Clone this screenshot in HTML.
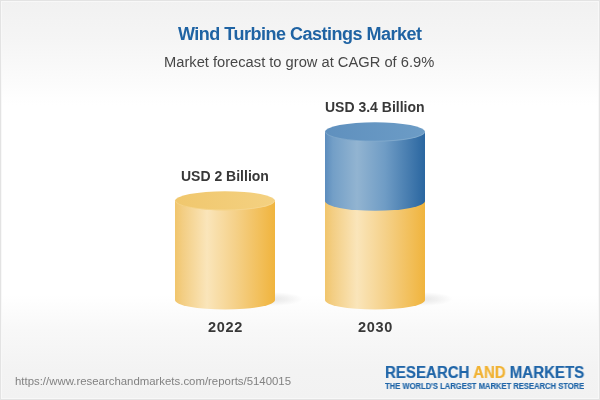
<!DOCTYPE html>
<html><head><meta charset="utf-8">
<style>
html,body{margin:0;padding:0;}
body{width:600px;height:400px;overflow:hidden;position:relative;font-family:"Liberation Sans",sans-serif;
background:linear-gradient(to bottom,#f1f1f1 0px,#f5f5f5 40px,#fbfbfb 80px,#ffffff 105px,#ffffff 295px,#f8f8f8 330px,#f3f3f3 370px,#f2f2f2 400px);}
.frame{position:absolute;left:0;top:0;width:598px;height:398px;border:1px solid #e3e3e3;box-shadow:inset 0 0 0 1px #f8f8f8;}
.t{position:absolute;white-space:nowrap;line-height:1;will-change:transform;}
#title{left:178px;top:25px;font-size:18px;font-weight:bold;color:#1f63a3;letter-spacing:-0.5px;}
#sub{left:164px;top:55px;font-size:14.7px;color:#474747;}
.lbl{font-size:14px;font-weight:bold;color:#383838;}
#l1{left:181px;top:169px;letter-spacing:0px;}
#l2{left:325px;top:100px;letter-spacing:0px;}
.yr{font-size:14.5px;font-weight:bold;color:#383838;letter-spacing:0.7px;top:320px;}
#y1{left:208px;}
#y2{left:358px;}
#url{left:14.5px;top:375.7px;font-size:11.4px;color:#828282;}
#logo1{left:385px;top:364.5px;font-size:16px;transform:scaleX(0.94);transform-origin:0 0;-webkit-text-stroke:0.2px currentColor;font-weight:bold;color:#1f65a8;}
#logo1 span{color:#f1b232;}
#logo2{left:385px;top:383.3px;font-size:8.2px;transform:scaleX(0.93);transform-origin:0 0;-webkit-text-stroke:0.15px currentColor;font-weight:bold;color:#1f65a8;}
svg{position:absolute;left:0;top:0;}
</style></head>
<body>
<div class="frame"></div>
<svg width="600" height="400" viewBox="0 0 600 400">
<defs>
<linearGradient id="yb" x1="0" x2="1" y1="0" y2="0">
<stop offset="0" stop-color="#f1c56b"/>
<stop offset="0.08" stop-color="#f3ce84"/>
<stop offset="0.32" stop-color="#fae5ba"/>
<stop offset="0.6" stop-color="#f5d18a"/>
<stop offset="1" stop-color="#f0b43d"/>
</linearGradient>
<linearGradient id="bb" x1="0" x2="1" y1="0" y2="0">
<stop offset="0" stop-color="#5c8cbd"/>
<stop offset="0.08" stop-color="#739fc7"/>
<stop offset="0.32" stop-color="#92b4d1"/>
<stop offset="0.6" stop-color="#6f9cc5"/>
<stop offset="1" stop-color="#2a66a0"/>
</linearGradient>
<linearGradient id="yt" x1="0" x2="1" y1="0" y2="0">
<stop offset="0" stop-color="#f0c76d"/>
<stop offset="1" stop-color="#f4d181"/>
</linearGradient>
<linearGradient id="bt" x1="0" x2="1" y1="0" y2="0">
<stop offset="0" stop-color="#5f90be"/>
<stop offset="1" stop-color="#6c9cc6"/>
</linearGradient>
<radialGradient id="sh" cx="0.5" cy="0.5" r="0.5">
<stop offset="0" stop-color="#000" stop-opacity="0.09"/>
<stop offset="0.5" stop-color="#000" stop-opacity="0.05"/>
<stop offset="1" stop-color="#000" stop-opacity="0"/>
</radialGradient>
</defs>
<!-- shadows -->
<ellipse cx="273" cy="299" rx="30" ry="7" fill="url(#sh)"/>
<ellipse cx="423" cy="299" rx="30" ry="7" fill="url(#sh)"/>
<!-- cylinder 1 -->
<path d="M175 200.8 V300 A50 9.5 0 0 0 275 300 V200.8 Z" fill="url(#yb)"/>
<ellipse cx="225" cy="200.8" rx="50" ry="9.6" fill="url(#yt)"/>
<path d="M175.5 200.8 A49.5 9.2 0 0 0 274.5 200.8" fill="none" stroke="#f9e2ab" stroke-width="0.8" opacity="0.5"/>
<!-- cylinder 2 -->
<path d="M325 200.8 V300 A50 9.5 0 0 0 425 300 V200.8 Z" fill="url(#yb)"/>
<path d="M325 131.9 V201.1 A50 9.6 0 0 0 425 201.1 V131.9 Z" fill="url(#bb)"/>
<ellipse cx="375" cy="131.9" rx="50" ry="9.7" fill="url(#bt)"/>
<path d="M325.5 131.9 A49.5 9.3 0 0 0 424.5 131.9" fill="none" stroke="#a5c2da" stroke-width="0.8" opacity="0.5"/>
</svg>
<div class="t" id="title">Wind Turbine Castings Market</div>
<div class="t" id="sub">Market forecast to grow at CAGR of 6.9%</div>
<div class="t lbl" id="l1">USD 2 Billion</div>
<div class="t lbl" id="l2">USD 3.4 Billion</div>
<div class="t yr" id="y1">2022</div>
<div class="t yr" id="y2">2030</div>
<div class="t" id="url">https://www.researchandmarkets.com/reports/5140015</div>
<div class="t" id="logo1">RESEARCH <span>AND</span> MARKETS</div>
<div class="t" id="logo2">THE WORLD'S LARGEST MARKET RESEARCH STORE</div>
</body></html>
